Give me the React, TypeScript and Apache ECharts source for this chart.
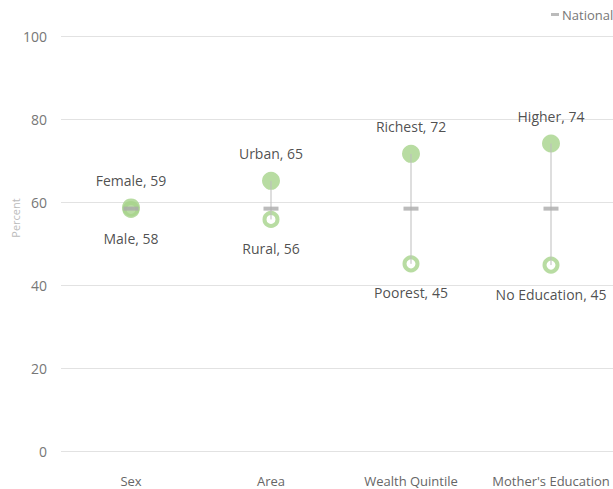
import React, { useEffect, useRef } from "react";
import * as echarts from "echarts";

const categories = ["Sex", "Area", "Wealth Quintile", "Mother's Education"];
const highNames = ["Female", "Urban", "Richest", "Higher"];
const highValues = [58.7, 65.1, 71.6, 74.1];
const lowNames = ["Male", "Rural", "Poorest", "No Education"];
const lowValues = [58.2, 55.8, 45.1, 44.8];
const nationalValues = [58.4, 58.4, 58.4, 58.4];
const yTicks = [0, 20, 40, 60, 80, 100];

const GREEN = "#a6d38b";
const FONT = "'Open Sans', 'Liberation Sans', sans-serif";

export default function App() {
  const ref = useRef<HTMLDivElement>(null);
  useEffect(() => {
    if (!ref.current) return;
    const chart = echarts.init(ref.current, undefined, { renderer: "svg" });
    const option: any = {
      animation: false,
      textStyle: { fontFamily: FONT },
      grid: { left: 61, top: 36, right: 1, bottom: 38, containLabel: false },
      legend: {
        left: 546,
        top: 3,
        itemWidth: 8,
        itemHeight: 3,
        itemGap: 0,
        icon: "rect",
        textStyle: { color: "#777", fontSize: 13, fontFamily: FONT, padding: [0, 0, 0, -2] },
        data: [{ name: "National", itemStyle: { color: "#aaa" } }],
      },
      xAxis: {
        type: "category",
        data: categories,
        axisLine: { show: false },
        axisTick: { show: false },
        axisLabel: { color: "#666", fontSize: 13, margin: 23, interval: 0, fontFamily: FONT },
        splitLine: { show: false },
      },
      yAxis: {
        type: "value",
        min: yTicks[0],
        max: yTicks[yTicks.length - 1],
        interval: 20,
        axisLine: { show: false },
        axisTick: { show: false },
        axisLabel: { color: "#777", fontSize: 14, margin: 14, fontFamily: FONT },
        splitLine: { lineStyle: { color: "#e2e2e2", width: 1 } },
      },
      graphic: [
        {
          type: "text",
          x: 15,
          y: 218,
          rotation: Math.PI / 2,
          style: {
            text: "Percent",
            fill: "#bbb",
            fontSize: 11,
            fontFamily: FONT,
            align: "center",
            verticalAlign: "middle",
          },
        },
      ],
      series: [
        {
          name: "Low",
          type: "scatter",
          z: 2,
          symbol: "circle",
          symbolSize: 13,
          itemStyle: { color: "#fff", borderColor: GREEN, borderWidth: 4 },
          label: {
            show: true,
            position: "inside",
            offset: [0, 29],
            color: "#222",
            fontSize: 14,
            fontFamily: FONT,
            formatter: (p: any) => `${lowNames[p.dataIndex]}, ${Math.round(lowValues[p.dataIndex])}`,
          },
          data: lowValues.map((v, i) => [categories[i], v]),
        },
        {
          name: "High",
          type: "scatter",
          z: 3,
          symbol: "circle",
          symbolSize: 18,
          itemStyle: { color: GREEN },
          label: {
            show: true,
            position: "inside",
            offset: [0, -27],
            color: "#222",
            fontSize: 14,
            fontFamily: FONT,
            formatter: (p: any) => `${highNames[p.dataIndex]}, ${Math.round(highValues[p.dataIndex])}`,
          },
          data: highValues.map((v, i) => [categories[i], v]),
        },
        {
          name: "Range",
          type: "custom",
          z: 4,
          silent: true,
          renderItem: (params: any, api: any) => {
            const a = api.coord([api.value(0), api.value(1)]);
            const b = api.coord([api.value(0), api.value(2)]);
            return {
              type: "line",
              shape: { x1: a[0], y1: a[1], x2: b[0], y2: b[1] },
              style: { stroke: "#bdbdbd", lineWidth: 1 },
            };
          },
          encode: { x: 0, y: [1, 2] },
          data: categories.map((c, i) => [i, lowValues[i], highValues[i]]),
        },
        {
          name: "National",
          type: "scatter",
          z: 5,
          symbol: "rect",
          symbolSize: [15, 4],
          itemStyle: { color: "#aaa" },
          data: nationalValues.map((v, i) => [categories[i], v]),
        },
      ],
    };
    chart.setOption(option);
    return () => chart.dispose();
  }, []);
  return (
    <div
      style={{
        position: "fixed",
        left: 0,
        top: 0,
        width: 613,
        height: 489,
        overflow: "hidden",
        background: "#fff",
      }}
    >
      <div ref={ref} style={{ width: 622, height: 489 }} />
    </div>
  );
}
